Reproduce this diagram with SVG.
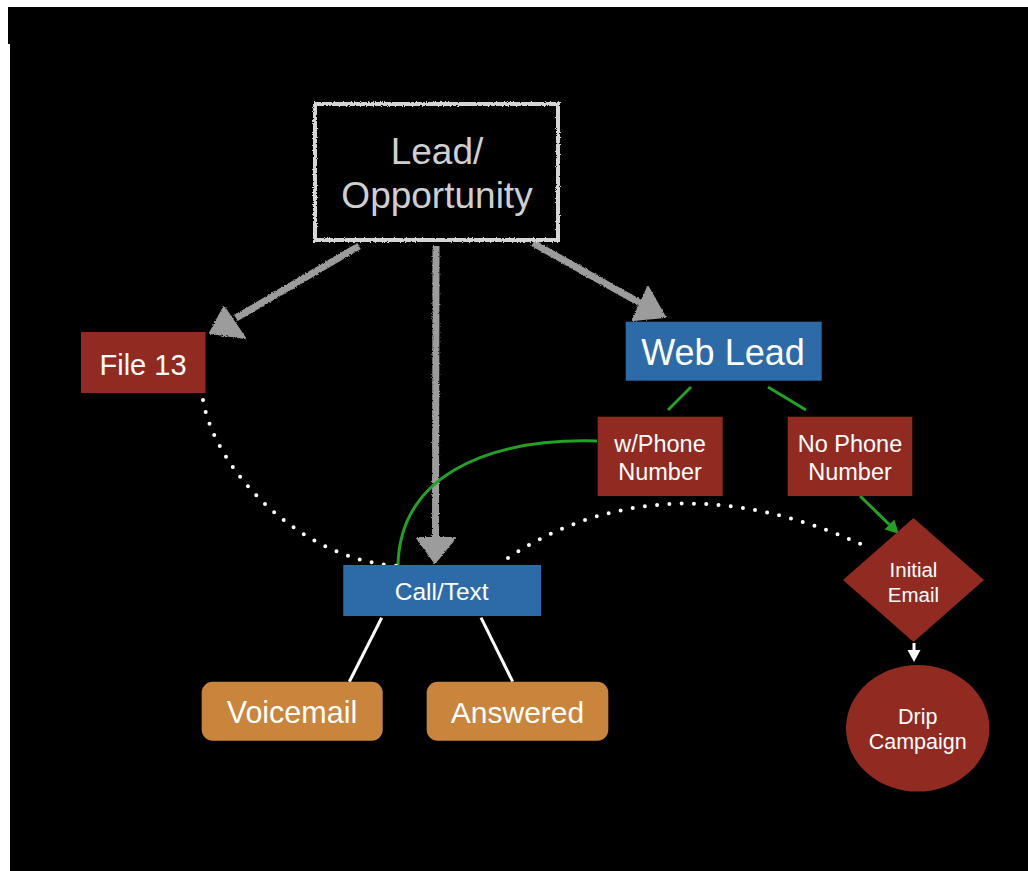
<svg xmlns="http://www.w3.org/2000/svg" width="1028" height="871" viewBox="0 0 1028 871">
  <style>
    .t { font-family: "Liberation Sans", Arial, Helvetica, sans-serif; fill: #ffffff; text-anchor: middle; }
    .red { fill: #912b22; }
    .blue { fill: #2d6ba8; }
    .orange { fill: #c9853c; }
    .chalk { stroke: #9c9c9c; stroke-width: 7; fill: none; }
    .chalkhead { fill: #9c9c9c; stroke: #9c9c9c; stroke-width: 2; stroke-linejoin: round; }
    .green { stroke: #23a127; stroke-width: 3; fill: none; }
    .white { stroke: #ffffff; stroke-width: 3; fill: none; }
    .dots { stroke: #ffffff; stroke-width: 4; fill: none; stroke-linecap: round; stroke-dasharray: 0 12.3; }
  </style>
  <defs>
    <filter id="rough" filterUnits="userSpaceOnUse" x="0" y="0" width="1028" height="871">
      <feTurbulence type="fractalNoise" baseFrequency="0.9" numOctaves="2" seed="3" result="n"/>
      <feDisplacementMap in="SourceGraphic" in2="n" scale="3" xChannelSelector="R" yChannelSelector="G"/>
    </filter>
    <marker id="greenHead" markerUnits="userSpaceOnUse" markerWidth="14" markerHeight="14" refX="0" refY="7" orient="auto" overflow="visible">
      <path d="M0,0 L13,7 L0,14 Z" fill="#23a127"/>
    </marker>
    <marker id="whiteHead" markerUnits="userSpaceOnUse" markerWidth="14" markerHeight="14" refX="0" refY="6.5" orient="auto" overflow="visible">
      <path d="M0,0 L12,6.5 L0,13 Z" fill="#ffffff"/>
    </marker>
  </defs>

  <rect x="0" y="0" width="1028" height="871" fill="#ffffff"/>
  <rect x="10" y="7" width="1018" height="864" fill="#000000"/>
  <rect x="8" y="7" width="4" height="37" fill="#000000"/>

  <g id="connectors">
    <g filter="url(#rough)">
      <line class="chalk" x1="359" y1="246" x2="236" y2="318"/>
      <polygon class="chalkhead" points="224,307 245,338 210,333"/>
      <line class="chalk" x1="436" y1="246" x2="435.5" y2="540"/>
      <polygon class="chalkhead" points="417,538 455,538 435,563"/>
      <line class="chalk" x1="533" y1="243" x2="640" y2="303"/>
      <polygon class="chalkhead" points="648,287 665,317 633,320"/>
    </g>
    <line class="green" x1="691" y1="387" x2="668" y2="410"/>
    <line class="green" x1="768" y1="387" x2="806" y2="410"/>
    <path class="green" d="M597,441 C480,438 400,480 398,565"/>
    <line class="green" x1="860" y1="496" x2="889.4" y2="524.6" marker-end="url(#greenHead)"/>
    <line class="white" x1="914" y1="643" x2="914" y2="650" marker-end="url(#whiteHead)"/>
    <line class="white" x1="381.7" y1="617.7" x2="349.3" y2="681.7"/>
    <line class="white" x1="481" y1="617.7" x2="512.7" y2="681.7"/>
    <path class="dots" d="M203,400 C215,470 300,560 398,566"/>
    <path class="dots" d="M508,558 C610,490 735,485 867,547"/>
  </g>

  <g id="node-lead">
    <rect x="315" y="104" width="243" height="136" fill="none" stroke="#d6d6d6" stroke-width="4" filter="url(#rough)"/>
    <text class="t" x="437" y="164" font-size="37" style="fill:#cfcfcf">Lead/</text>
    <text class="t" x="437" y="208" font-size="37" style="fill:#cfcfcf">Opportunity</text>
  </g>

  <g id="node-file13">
    <rect class="red" x="81" y="332" width="124.5" height="61"/>
    <text class="t" x="143" y="375" font-size="29">File 13</text>
  </g>

  <g id="node-weblead">
    <rect class="blue" x="625.7" y="321.7" width="196" height="59"/>
    <text class="t" x="723" y="365" font-size="36">Web Lead</text>
  </g>

  <g id="node-withphone">
    <rect class="red" x="597.7" y="416.7" width="125" height="79.3"/>
    <text class="t" x="660" y="451.7" font-size="23.5">w/Phone</text>
    <text class="t" x="660" y="480" font-size="23.5">Number</text>
  </g>

  <g id="node-nophone">
    <rect class="red" x="787.7" y="416.7" width="124.6" height="79.3"/>
    <text class="t" x="850" y="451.7" font-size="23.5">No Phone</text>
    <text class="t" x="850" y="480" font-size="23.5">Number</text>
  </g>

  <g id="node-calltext">
    <rect class="blue" x="343.3" y="565" width="197.7" height="51"/>
    <text class="t" x="441.7" y="600" font-size="24.5">Call/Text</text>
  </g>

  <g id="node-voicemail">
    <rect class="orange" x="201.7" y="681.7" width="181" height="59" rx="11"/>
    <text class="t" x="292" y="723.3" font-size="30.5">Voicemail</text>
  </g>

  <g id="node-answered">
    <rect class="orange" x="426.7" y="681.7" width="181.6" height="59" rx="11"/>
    <text class="t" x="517.5" y="723.3" font-size="30">Answered</text>
  </g>

  <g id="node-initialemail">
    <polygon class="red" points="913.5,518 984,580 913.5,642 843,580"/>
    <text class="t" x="913.5" y="577" font-size="20.5">Initial</text>
    <text class="t" x="913.5" y="602" font-size="20.5">Email</text>
  </g>

  <g id="node-drip">
    <ellipse class="red" cx="917.7" cy="728.3" rx="71.7" ry="63.3"/>
    <text class="t" x="917.7" y="724" font-size="21.5">Drip</text>
    <text class="t" x="917.7" y="749.3" font-size="21.5">Campaign</text>
  </g>
</svg>
